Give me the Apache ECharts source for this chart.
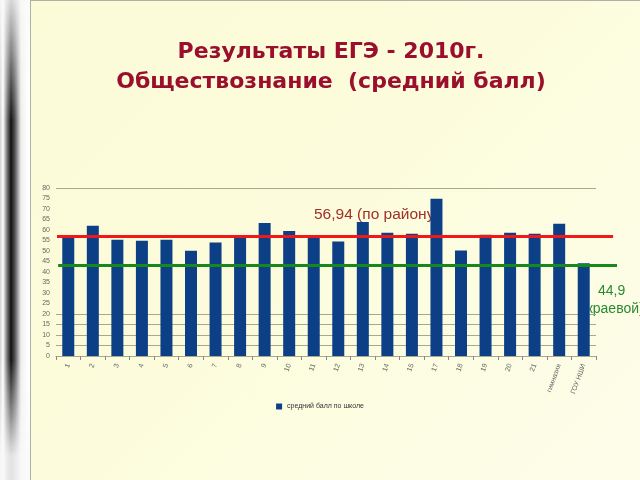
<!DOCTYPE html>
<html><head><meta charset="utf-8">
<script src="https://cdn.jsdelivr.net/npm/echarts@6/dist/echarts.min.js"></script>
<style>
html,body{margin:0;padding:0;width:640px;height:480px;overflow:hidden;background:#f4f4f0;}
#deco{position:absolute;left:0;top:0;width:30px;height:480px;background:#fafafa;}
#deco2{position:absolute;left:0;top:0;width:30px;height:480px;background:linear-gradient(90deg,#d0d0d0 0px,#ffffff 3px,#7a7a7a 7px,#111 11px,#555 15px,#eee 21px,#ffffff 28px);-webkit-mask-image:linear-gradient(180deg,transparent 0%,#000 25%,#000 75%,transparent 95%);mask-image:linear-gradient(180deg,rgba(0,0,0,0.15) 0%,#000 25%,#000 75%,rgba(0,0,0,0.1) 95%);}
#slide{position:absolute;left:30px;top:0;width:610px;height:480px;background:linear-gradient(135deg,#fbfbd8 0%,#fcfcdc 45%,#fdfdea 100%);border-left:1px solid #b0b0a8;border-top:1px solid #b0b0a8;box-sizing:border-box;}
#chart{position:absolute;left:0;top:0;width:640px;height:480px;}
</style></head>
<body>
<div id="deco"></div><div id="deco2"></div><div id="slide"></div>
<div id="chart"></div>
<script>
const categories = ["1","2","3","4","5","6","7","8","9","10","11","12","13","14","15","17","18","19","20","21","гимназия","ГОУ НШИ"];
const schoolScores = [57,62,55.3,54.9,55.3,50.1,54.1,57,63.3,59.5,57,54.5,63.8,58.7,58.2,74.9,50.2,57.7,58.7,58.2,63,44.2];
const yTicks = [0,80,5];
const districtAvg = 56.94;
const regionalLinePos = 43.1;
const seriesName = "средний балл по школе";

const gridColors = [];
for (let v = 0; v <= 80; v += 5) gridColors.push((v <= 20 || v === 80) ? '#a8a890' : 'rgba(0,0,0,0)');

const chart = echarts.init(document.getElementById('chart'), null, {renderer:'canvas'});
chart.setOption({
  backgroundColor: 'transparent',
  animation: false,
  title: {
    text: 'Результаты ЕГЭ - 2010г.\nОбществознание  (средний балл)',
    left: 326, textAlign: 'center', top: 32,
    textStyle: {fontFamily:'DejaVu Sans', fontWeight:'bold', fontSize:22, color:'#9a0f2c', lineHeight:30}
  },
  legend: {
    data:[seriesName], top: 398, left: 'center',
    itemWidth:6, itemHeight:6, icon:'rect', itemGap:4,
    textStyle:{fontSize:7, color:'#333', fontFamily:'Liberation Sans'}
  },
  grid: [
    {left:56, right:44, top:188, bottom:124},
    {left:57, right:23, top:188, bottom:124}
  ],
  xAxis: [
    {type:'category', data:categories, gridIndex:0,
     axisLine:{lineStyle:{color:'#a8a890'}},
     axisTick:{show:true, length:4, lineStyle:{color:'#888'}},
     axisLabel:{rotate:70, fontSize:7, color:'#666', fontFamily:'Liberation Sans', margin:8}},
    {type:'value', gridIndex:1, min:0, max:1, show:false}
  ],
  yAxis: [
    {type:'value', gridIndex:0, min:yTicks[0], max:yTicks[1], interval:yTicks[2],
     axisLine:{show:false}, axisTick:{show:false},
     axisLabel:{fontSize:7, color:'#666', fontFamily:'Liberation Sans', margin:6},
     splitLine:{show:true, lineStyle:{color:gridColors, width:1}}},
    {type:'value', gridIndex:1, min:yTicks[0], max:yTicks[1], show:false}
  ],
  series: [
    {name:seriesName, type:'bar', data:schoolScores, barWidth:12,
     itemStyle:{color:'#0c3f86'}},
    {type:'line', xAxisIndex:1, yAxisIndex:1, data:[[0,districtAvg],[0.993,districtAvg]],
     symbol:'none', lineStyle:{color:'#f01818', width:3}, silent:true},
    {type:'line', xAxisIndex:1, yAxisIndex:1, data:[[0.002,regionalLinePos],[1,regionalLinePos]],
     symbol:'none', lineStyle:{color:'#16881c', width:3}, silent:true}
  ],
  graphic: [
    {type:'text', left:314, top:207, style:{text:'56,94 (по району)', font:'15.5px "Liberation Sans"', fill:'#a0302a'}},
    {type:'text', left:598, top:284, style:{text:'44,9', font:'14px "Liberation Sans"', fill:'#2a8a30'}},
    {type:'text', left:582, top:302, style:{text:'(краевой)', font:'14px "Liberation Sans"', fill:'#2a8a30'}}
  ]
});
</script>
</body></html>
